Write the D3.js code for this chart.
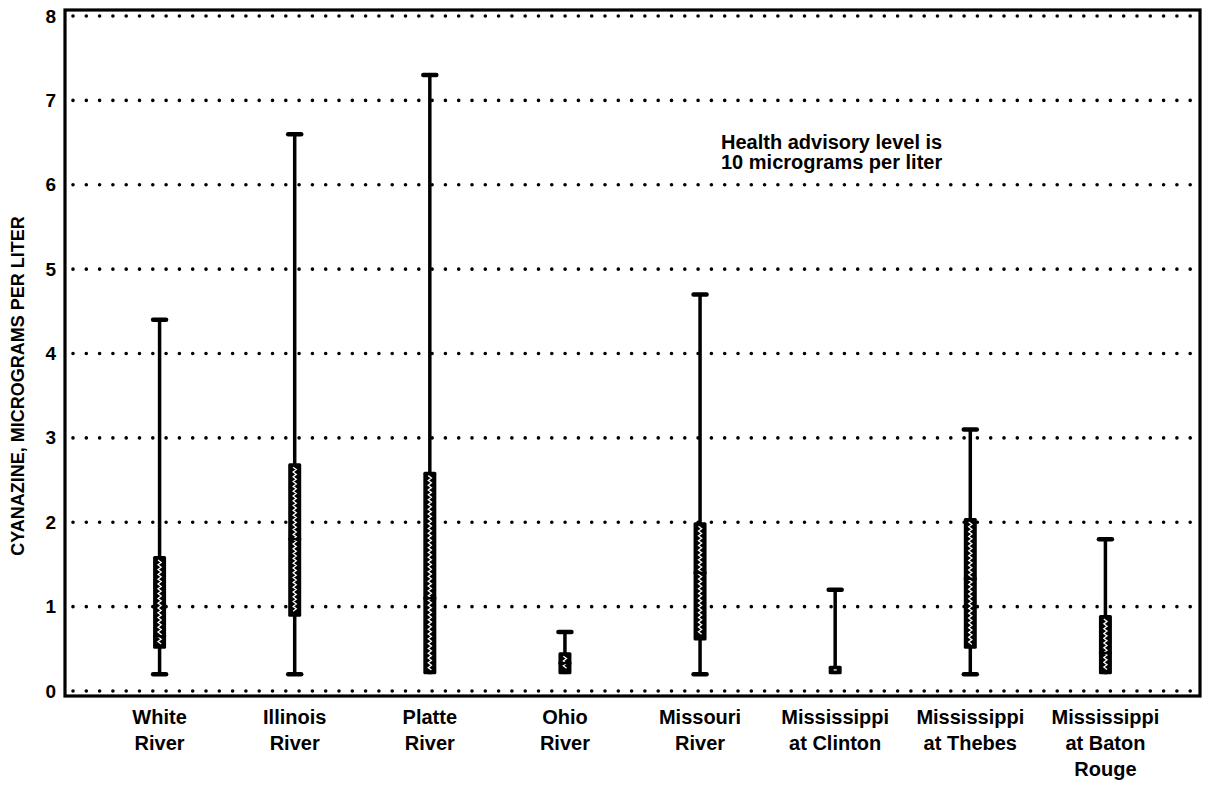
<!DOCTYPE html>
<html>
<head>
<meta charset="utf-8">
<script src="https://cdnjs.cloudflare.com/ajax/libs/d3/7.8.5/d3.min.js"></script>
<style>
  body { margin: 0; background: #fff; }
  text { font-family: "Liberation Sans", Arial, Helvetica, sans-serif; font-weight: bold; fill: #000; }
</style>
</head>
<body>
<svg id="chart" width="1209" height="786"></svg>
<script>
// sites along the x axis, each label split into lines
var sites = ["White River", "Illinois River", "Platte River", "Ohio River",
             "Missouri River", "Mississippi at Clinton", "Mississippi at Thebes",
             "Mississippi at Baton Rouge"];
var siteLines = [["White", "River"], ["Illinois", "River"], ["Platte", "River"],
                 ["Ohio", "River"], ["Missouri", "River"], ["Mississippi", "at Clinton"],
                 ["Mississippi", "at Thebes"], ["Mississippi", "at Baton", "Rouge"]];

// cyanazine, micrograms per liter
var whiskerLow  = [0.2, 0.2, 0.2, 0.2, 0.2, 0.2, 0.2, 0.2];
var boxLow      = [0.5, 0.88, 0.2, 0.2, 0.6, 0.2, 0.5, 0.2];
var median      = [0.65, 1.8, 1.1, 0.33, 1.4, 0.25, 1.33, 0.45];
var boxHigh     = [1.6, 2.7, 2.6, 0.46, 2.0, 0.3, 2.05, 0.9];
var whiskerHigh = [4.4, 6.6, 7.3, 0.7, 4.7, 1.2, 3.1, 1.8];

var yTicks = [0, 1, 2, 3, 4, 5, 6, 7, 8];
var noteLines = ["Health advisory level is", "10 micrograms per liter"];

var svg = d3.select("#chart");
var plotLeft = 65, plotRight = 1200, plotTop = 10, plotBottom = 696;

var x = d3.scalePoint().domain(sites).range([plotLeft, plotRight]).padding(0.7);
var y = d3.scaleLinear().domain([0, 8]).range([691, 16]);

var data = sites.map(function(s, i) {
    return { site: s, lines: siteLines[i], lo: whiskerLow[i], q1: boxLow[i],
             med: median[i], q3: boxHigh[i], hi: whiskerHigh[i] };
});

// dotted grid lines
svg.append("g").selectAll("line")
    .data(yTicks).enter().append("line")
    .attr("x1", plotLeft + 8).attr("x2", plotRight - 4)
    .attr("y1", function(d) { return y(d); })
    .attr("y2", function(d) { return y(d); })
    .attr("stroke", "#000").attr("stroke-width", 3.6)
    .attr("stroke-linecap", "round")
    .attr("stroke-dasharray", "0 13.3");

// frame
svg.append("rect")
    .attr("x", plotLeft).attr("y", plotTop)
    .attr("width", plotRight - plotLeft).attr("height", plotBottom - plotTop)
    .attr("fill", "none").attr("stroke", "#000").attr("stroke-width", 3.2);

// y axis labels
var yAxis = d3.axisLeft(y).tickValues(yTicks).tickSize(0).tickPadding(9)
    .tickFormat(d3.format("d"));
var yg = svg.append("g").attr("transform", "translate(" + plotLeft + ",0)").call(yAxis);
yg.select(".domain").remove();
yg.selectAll("text").style("font-size", "19px")
    .style("font-family", "'Liberation Sans', Arial, sans-serif").style("font-weight", "bold");

// y axis title
svg.append("text")
    .attr("transform", "translate(24,386) rotate(-90)")
    .attr("text-anchor", "middle")
    .style("font-size", "18px")
    .text("CYANAZINE, MICROGRAMS PER LITER");

// x labels
var xl = svg.append("g").selectAll("text")
    .data(data).enter().append("text")
    .attr("text-anchor", "middle")
    .style("font-size", "20px");
xl.selectAll("tspan")
    .data(function(d) { return d.lines.map(function(l) { return { line: l, site: d.site }; }); })
    .enter().append("tspan")
    .attr("x", function(d) { return x(d.site); })
    .attr("y", function(d, i) { return 724 + i * 26; })
    .text(function(d) { return d.line; });

// boxes and whiskers
var bw = 13;
var g = svg.append("g").selectAll("g")
    .data(data).enter().append("g");

g.append("line")
    .attr("x1", function(d) { return x(d.site); })
    .attr("x2", function(d) { return x(d.site); })
    .attr("y1", function(d) { return y(d.hi); })
    .attr("y2", function(d) { return y(d.lo); })
    .attr("stroke", "#000").attr("stroke-width", 3.5);

g.append("line")
    .attr("x1", function(d) { return x(d.site) - 6.5; })
    .attr("x2", function(d) { return x(d.site) + 6.5; })
    .attr("y1", function(d) { return y(d.hi); })
    .attr("y2", function(d) { return y(d.hi); })
    .attr("stroke", "#000").attr("stroke-width", 4.5).attr("stroke-linecap", "round");

g.filter(function(d) { return d.lo < d.q1; }).append("line")
    .attr("x1", function(d) { return x(d.site) - 6.5; })
    .attr("x2", function(d) { return x(d.site) + 6.5; })
    .attr("y1", function(d) { return y(d.lo); })
    .attr("y2", function(d) { return y(d.lo); })
    .attr("stroke", "#000").attr("stroke-width", 4.5).attr("stroke-linecap", "round");

g.append("rect")
    .attr("x", function(d) { return x(d.site) - bw / 2; })
    .attr("y", function(d) { return y(d.q3); })
    .attr("width", bw)
    .attr("height", function(d) { return y(d.q1) - y(d.q3); })
    .attr("rx", 1.5)
    .attr("fill", "#000");

// white zigzag hatch inside each box
var zig = d3.line();
g.append("path")
    .attr("d", function(d) {
        var cx = x(d.site), y0 = y(d.q3) + 4, y1 = y(d.q1) - 4;
        if (y1 - y0 < 4) return zig([[cx - 1.5, (y0 + y1) / 2], [cx + 1.5, (y0 + y1) / 2]]);
        var pts = d3.range(y0, y1, 2.4).map(function(yy, i) {
            return [cx + (i % 2 ? 1.6 : -1.6), yy];
        });
        return zig(pts);
    })
    .attr("fill", "none").attr("stroke", "#fff").attr("stroke-width", 1.3);

// median break
g.filter(function(d) { return y(d.q1) - y(d.q3) > 12; }).append("line")
    .attr("x1", function(d) { return x(d.site) - bw / 2; })
    .attr("x2", function(d) { return x(d.site) + bw / 2; })
    .attr("y1", function(d) { return y(d.med); })
    .attr("y2", function(d) { return y(d.med); })
    .attr("stroke", "#000").attr("stroke-width", 2.5);

// note
svg.append("g").selectAll("text")
    .data(noteLines).enter().append("text")
    .attr("x", 721)
    .attr("y", function(d, i) { return 149 + i * 20; })
    .style("font-size", "20px")
    .text(function(d) { return d; });
</script>
</body>
</html>
